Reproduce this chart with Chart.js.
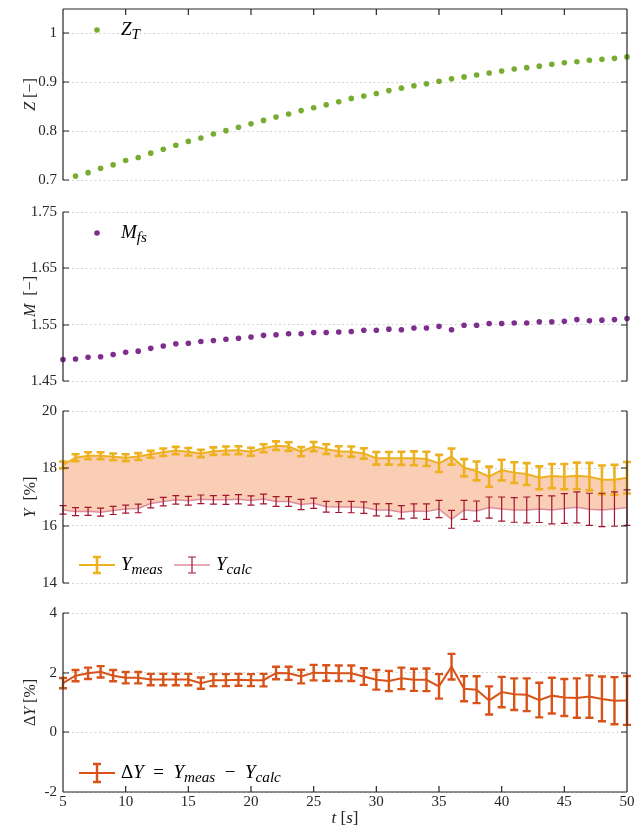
<!DOCTYPE html>
<html>
<head>
<meta charset="utf-8">
<script src="https://cdn.jsdelivr.net/npm/chart.js@4/dist/chart.umd.min.js"></script>
<style>
  body { margin: 0; background: #fff; overflow: hidden; }
  #lienzo { position: relative; width: 641px; height: 834px; }
  #lienzo canvas { position: absolute; left: 0; }
</style>
</head>
<body>
<div id="lienzo">
  <canvas id="g1" width="641" height="204" style="top:-8px"></canvas>
  <canvas id="g2" width="641" height="200" style="top:196px"></canvas>
  <canvas id="g3" width="641" height="202" style="top:396px"></canvas>
  <canvas id="g4" width="641" height="236" style="top:598px"></canvas>
</div>
<script>
// Tiempo [s]
const tiempo = [5, 6, 7, 8, 9, 10, 11, 12, 13, 14, 15, 16, 17, 18, 19, 20, 21, 22, 23, 24, 25, 26, 27, 28,
    29, 30, 31, 32, 33, 34, 35, 36, 37, 38, 39, 40, 41, 42, 43, 44, 45, 46, 47, 48, 49, 50];
const tiempoZ = tiempo.slice(1); // Z_T empieza en t = 6

// Z_T [-]
const zT = [0.708, 0.715, 0.724, 0.731, 0.740, 0.746, 0.755, 0.763, 0.771, 0.779, 0.786, 0.794, 0.801,
    0.808, 0.815, 0.822, 0.829, 0.835, 0.842, 0.848, 0.854, 0.860, 0.867, 0.872, 0.877, 0.883, 0.888,
    0.893, 0.897, 0.902, 0.907, 0.911, 0.915, 0.919, 0.923, 0.927, 0.930, 0.933, 0.937, 0.940, 0.942,
    0.945, 0.947, 0.949, 0.952];

// M_fs [-]
const mFs = [1.488, 1.489, 1.492, 1.493, 1.497, 1.501, 1.503, 1.508, 1.512, 1.516, 1.517, 1.520, 1.522,
    1.524, 1.526, 1.528, 1.531, 1.532, 1.534, 1.534, 1.536, 1.536, 1.537, 1.538, 1.540, 1.540, 1.542,
    1.541, 1.544, 1.544, 1.547, 1.541, 1.549, 1.549, 1.552, 1.552, 1.553, 1.553, 1.555, 1.555, 1.556,
    1.559, 1.557, 1.558, 1.559, 1.561];

// Y medido y calculado [%]
const yMeas = [18.12, 18.37, 18.44, 18.44, 18.40, 18.37, 18.41, 18.49, 18.56, 18.62, 18.58, 18.52, 18.60,
    18.62, 18.63, 18.58, 18.70, 18.79, 18.76, 18.58, 18.76, 18.67, 18.60, 18.58, 18.52, 18.35, 18.35,
    18.35, 18.35, 18.33, 18.17, 18.41, 18.02, 17.91, 17.71, 17.94, 17.85, 17.80, 17.67, 17.73, 17.71,
    17.74, 17.71, 17.60, 17.60, 17.67];
const errMeas = [0.12, 0.12, 0.12, 0.12, 0.12, 0.12, 0.12, 0.12, 0.13, 0.13, 0.13, 0.13, 0.13, 0.14, 0.14,
    0.14, 0.14, 0.15, 0.15, 0.16, 0.16, 0.17, 0.17, 0.18, 0.18, 0.22, 0.22, 0.23, 0.24, 0.25, 0.30, 0.28,
    0.30, 0.33, 0.35, 0.36, 0.36, 0.38, 0.40, 0.42, 0.44, 0.46, 0.48, 0.50, 0.52, 0.55];
const yCalc = [16.55, 16.49, 16.50, 16.47, 16.53, 16.58, 16.60, 16.77, 16.84, 16.90, 16.87, 16.92, 16.90,
    16.90, 16.92, 16.88, 16.93, 16.84, 16.84, 16.74, 16.78, 16.66, 16.65, 16.65, 16.63, 16.55, 16.55,
    16.47, 16.51, 16.49, 16.58, 16.22, 16.55, 16.51, 16.63, 16.58, 16.55, 16.55, 16.58, 16.55, 16.60,
    16.64, 16.57, 16.55, 16.58, 16.63];
const errCalc = [0.15, 0.14, 0.14, 0.14, 0.14, 0.14, 0.15, 0.15, 0.15, 0.15, 0.15, 0.15, 0.15, 0.16, 0.16,
    0.16, 0.17, 0.17, 0.17, 0.18, 0.18, 0.19, 0.19, 0.20, 0.20, 0.21, 0.22, 0.23, 0.25, 0.27, 0.30, 0.31,
    0.33, 0.35, 0.37, 0.42, 0.43, 0.45, 0.47, 0.49, 0.52, 0.54, 0.56, 0.58, 0.60, 0.62];

// Delta Y [%]
const deltaY = [1.65, 1.90, 1.98, 2.03, 1.90, 1.83, 1.83, 1.77, 1.77, 1.77, 1.77, 1.65, 1.75, 1.75, 1.76,
    1.75, 1.75, 1.99, 1.98, 1.87, 2.00, 1.99, 1.98, 1.98, 1.87, 1.76, 1.72, 1.81, 1.76, 1.76, 1.54, 2.20,
    1.46, 1.43, 1.07, 1.35, 1.28, 1.26, 1.08, 1.23, 1.17, 1.15, 1.20, 1.12, 1.06, 1.07];
const errDelta = [0.17, 0.19, 0.19, 0.19, 0.19, 0.19, 0.19, 0.19, 0.19, 0.19, 0.19, 0.19, 0.20, 0.20, 0.20,
    0.20, 0.21, 0.21, 0.22, 0.23, 0.26, 0.26, 0.26, 0.26, 0.28, 0.33, 0.34, 0.36, 0.37, 0.38, 0.41, 0.43,
    0.42, 0.45, 0.47, 0.51, 0.53, 0.55, 0.58, 0.60, 0.62, 0.66, 0.71, 0.75, 0.79, 0.82];

// Ticks de cada panel
const ticksZ = [0.7, 0.8, 0.9, 1];
const ticksM = [1.45, 1.55, 1.65, 1.75];
const ticksY = [14, 16, 18, 20];
const ticksDelta = [-2, 0, 2, 4];
const ticksT = [5, 10, 15, 20, 25, 30, 35, 40, 45, 50];

const FUENTE = '"Liberation Serif", "DejaVu Serif", serif';
const GRIS = '#262626';
const TAM_LEYENDA = 19;

const puntos = (xs, ys) => xs.map((x, i) => ({ x, y: ys[i] }));

// Texto con cursiva y subíndices: partes = [[texto, estilo]], estilo 'r', 'i' o 'is'
function fuenteParte(e, tam) {
    const sub = e.includes('s');
    return `${e.includes('i') ? 'italic ' : ''}${sub ? tam * 0.8 : tam}px ${FUENTE}`;
}
function anchoRico(ctx, partes, tam) {
    let w = 0;
    partes.forEach(([t, e]) => {
        ctx.font = fuenteParte(e, tam);
        w += ctx.measureText(t).width;
    });
    return w;
}
function textoRico(ctx, partes, x, y, tam) {
    let cx = x;
    ctx.textAlign = 'left';
    ctx.textBaseline = 'middle';
    partes.forEach(([t, e]) => {
        ctx.font = fuenteParte(e, tam);
        ctx.fillText(t, cx, y + (e.includes('s') ? tam * 0.28 : 0));
        cx += ctx.measureText(t).width;
    });
    return cx;
}

function barra(ctx, x, y1, y2, cap) {
    ctx.beginPath();
    ctx.moveTo(x, y1); ctx.lineTo(x, y2);
    ctx.moveTo(x - cap, y1); ctx.lineTo(x + cap, y1);
    ctx.moveTo(x - cap, y2); ctx.lineTo(x + cap, y2);
    ctx.stroke();
}

// Barras de error dibujadas con las escalas del gráfico
const barrasError = {
    id: 'barrasError',
    afterDatasetsDraw(chart) {
        const ctx = chart.ctx;
        const sx = chart.scales.x, sy = chart.scales.y;
        chart.data.datasets.forEach(ds => {
            if (!ds.errores) return;
            ctx.save();
            ctx.strokeStyle = ds.colorBarra;
            ctx.lineWidth = ds.anchoBarra;
            ds.data.forEach((p, j) => {
                const px = sx.getPixelForValue(p.x);
                barra(ctx, px, sy.getPixelForValue(p.y + ds.errores[j]), sy.getPixelForValue(p.y - ds.errores[j]), ds.cap);
            });
            ctx.restore();
        });
    }
};

// Ejes tipo MATLAB, títulos y leyendas
const marco = {
    id: 'marco',
    afterDraw(chart, args, op) {
        const ctx = chart.ctx;
        const { left, right, top, bottom } = chart.chartArea;
        const sx = chart.scales.x, sy = chart.scales.y;
        ctx.save();
        ctx.strokeStyle = GRIS;
        ctx.fillStyle = GRIS;
        ctx.lineWidth = 1.2;
        ctx.beginPath();
        ctx.moveTo(left, top); ctx.lineTo(left, bottom);
        ctx.moveTo(right, top); ctx.lineTo(right, bottom);
        op.ticks.forEach(v => {
            const py = Math.round(sy.getPixelForValue(v));
            ctx.moveTo(left, py); ctx.lineTo(left + 6, py);
            ctx.moveTo(right, py); ctx.lineTo(right - 6, py);
        });
        if (op.arriba) {
            ctx.moveTo(left, top); ctx.lineTo(right, top);
            ticksT.forEach(v => { const px = sx.getPixelForValue(v); ctx.moveTo(px, top); ctx.lineTo(px, top + 6); });
        }
        if (op.abajo) {
            ctx.moveTo(left, bottom); ctx.lineTo(right, bottom);
            ticksT.forEach(v => { const px = sx.getPixelForValue(v); ctx.moveTo(px, bottom); ctx.lineTo(px, bottom - 6); });
        }
        ctx.stroke();

        // título eje y
        ctx.save();
        ctx.translate(31, (top + bottom) / 2);
        ctx.rotate(-Math.PI / 2);
        const w = anchoRico(ctx, op.tituloY, 16);
        textoRico(ctx, op.tituloY, -w / 2, 0, 16);
        ctx.restore();

        // título eje x
        if (op.abajo) {
            const wt = anchoRico(ctx, op.tituloX, 17);
            textoRico(ctx, op.tituloX, (left + right) / 2 - wt / 2, bottom + 27, 17);
        }

        // leyenda
        op.leyenda.forEach(it => {
            if (it.tipo === 'punto') {
                ctx.fillStyle = it.color;
                ctx.beginPath(); ctx.arc(it.x, it.y, 2.8, 0, Math.PI * 2); ctx.fill();
            } else {
                ctx.strokeStyle = it.colorLinea;
                ctx.lineWidth = it.anchoLinea;
                ctx.beginPath(); ctx.moveTo(it.x, it.y); ctx.lineTo(it.x + 36, it.y); ctx.stroke();
                ctx.strokeStyle = it.colorBarra;
                ctx.lineWidth = it.anchoBarra;
                barra(ctx, it.x + 18, it.y - it.alto, it.y + it.alto, 4);
            }
            ctx.fillStyle = '#000';
            textoRico(ctx, it.texto, it.xt, it.y, TAM_LEYENDA);
        });
        ctx.restore();
    }
};

function ejes(min, max, ticks, ejeX) {
    return {
        x: {
            type: 'linear', min: 5, max: 50,
            display: !!ejeX,
            afterBuildTicks: s => { s.ticks = ticksT.map(v => ({ value: v })); },
            grid: { display: false, drawTicks: false, tickLength: 0 },
            border: { display: false },
            ticks: { font: { family: FUENTE, size: 15 }, color: GRIS, padding: 1, maxRotation: 0, callback: v => String(v) },
            afterFit: s => { if (ejeX) s.height = 42; }
        },
        y: {
            min, max,
            afterBuildTicks: s => { s.ticks = ticks.map(v => ({ value: v })); },
            grid: { color: '#d4d4d4', lineWidth: 1, drawTicks: false },
            border: { display: false, dash: [2, 2.5] },
            ticks: { font: { family: FUENTE, size: 15 }, color: GRIS, padding: 6, callback: v => String(v) },
            afterFit: s => { s.width = 63; }
        }
    };
}

function baseOpciones(padTop, padBottom) {
    return {
        responsive: false,
        animation: false,
        devicePixelRatio: 1,
        layout: { padding: { left: 0, right: 14, top: padTop, bottom: padBottom } },
        plugins: { legend: { display: false }, tooltip: { enabled: false } }
    };
}

Chart.register(barrasError, marco);

// Panel 1: Z_T (lienzo desplazado 8 px hacia arriba)
new Chart(document.getElementById('g1'), {
    type: 'scatter',
    data: { datasets: [{ data: puntos(tiempoZ, zT), backgroundColor: '#77AC30', borderWidth: 0, pointRadius: 2.8, clip: false }] },
    options: Object.assign(baseOpciones(17, 16), {
        scales: ejes(0.7, 1.05, ticksZ, false),
        plugins: {
            legend: { display: false }, tooltip: { enabled: false },
            marco: {
                ticks: ticksZ, arriba: true,
                tituloY: [['Z', 'i'], [' [\u2212]', 'r']],
                leyenda: [{ tipo: 'punto', color: '#77AC30', x: 97, y: 38, xt: 121, texto: [['Z', 'i'], ['T', 'is']] }]
            }
        }
    })
});

// Panel 2: M_fs
new Chart(document.getElementById('g2'), {
    type: 'scatter',
    data: { datasets: [{ data: puntos(tiempo, mFs), backgroundColor: '#7E2F8E', borderWidth: 0, pointRadius: 2.8, clip: false }] },
    options: Object.assign(baseOpciones(16, 12), {
        scales: ejes(1.45, 1.75, ticksM, false),
        plugins: {
            legend: { display: false }, tooltip: { enabled: false },
            marco: {
                ticks: ticksM,
                tituloY: [['M', 'i'], ['  [\u2212]', 'r']],
                leyenda: [{ tipo: 'punto', color: '#7E2F8E', x: 97, y: 37, xt: 121, texto: [['M', 'i'], ['fs', 'is']] }]
            }
        }
    })
});

// Panel 3: Y medido vs calculado
new Chart(document.getElementById('g3'), {
    type: 'line',
    data: {
        datasets: [
            {
                data: puntos(tiempo, yMeas), borderColor: '#EDB120', borderWidth: 2, pointRadius: 0, fill: false, clip: false,
                errores: errMeas, colorBarra: '#EDB120', anchoBarra: 2.6, cap: 4
            },
            {
                data: puntos(tiempo, yCalc), borderColor: '#dc8d9d', borderWidth: 1.5, pointRadius: 0,
                fill: { target: 0 }, backgroundColor: 'rgb(249,206,180)', clip: false,
                errores: errCalc, colorBarra: '#A2142F', anchoBarra: 1.2, cap: 3.5
            }
        ]
    },
    options: Object.assign(baseOpciones(15, 15), {
        scales: ejes(14, 20, ticksY, false),
        plugins: {
            legend: { display: false }, tooltip: { enabled: false },
            marco: {
                ticks: ticksY,
                tituloY: [['Y', 'i'], ['  [%]', 'r']],
                leyenda: [
                    { tipo: 'barra', colorLinea: '#EDB120', anchoLinea: 2, colorBarra: '#EDB120', anchoBarra: 2.6, alto: 8,
                      x: 79, y: 169, xt: 121, texto: [['Y', 'i'], ['meas', 'is']] },
                    { tipo: 'barra', colorLinea: '#dc8d9d', anchoLinea: 1.5, colorBarra: '#A2142F', anchoBarra: 1.2, alto: 8,
                      x: 174, y: 169, xt: 216, texto: [['Y', 'i'], ['calc', 'is']] }
                ]
            }
        }
    })
});

// Panel 4: Delta Y
new Chart(document.getElementById('g4'), {
    type: 'line',
    data: {
        datasets: [{
            data: puntos(tiempo, deltaY), borderColor: '#D95319', borderWidth: 2, pointRadius: 0, fill: false, clip: false,
            errores: errDelta, colorBarra: '#D95319', anchoBarra: 2.4, cap: 4
        }]
    },
    options: Object.assign(baseOpciones(13, 0), {
        scales: ejes(-2, 4, ticksDelta, true),
        plugins: {
            legend: { display: false }, tooltip: { enabled: false },
            marco: {
                ticks: ticksDelta, abajo: true,
                tituloY: [['\u0394', 'r'], ['Y', 'i'], [' [%]', 'r']],
                tituloX: [['t', 'i'], [' [', 'r'], ['s', 'i'], [']', 'r']],
                leyenda: [{ tipo: 'barra', colorLinea: '#D95319', anchoLinea: 2, colorBarra: '#D95319', anchoBarra: 2.4, alto: 9,
                    x: 79, y: 175, xt: 121,
                    texto: [['\u0394', 'r'], ['Y', 'i'], ['\u2002=\u2002', 'r'], ['Y', 'i'], ['meas', 'is'], ['\u2002\u2212\u2002', 'r'], ['Y', 'i'], ['calc', 'is']] }]
            }
        }
    })
});
</script>
</body>
</html>
